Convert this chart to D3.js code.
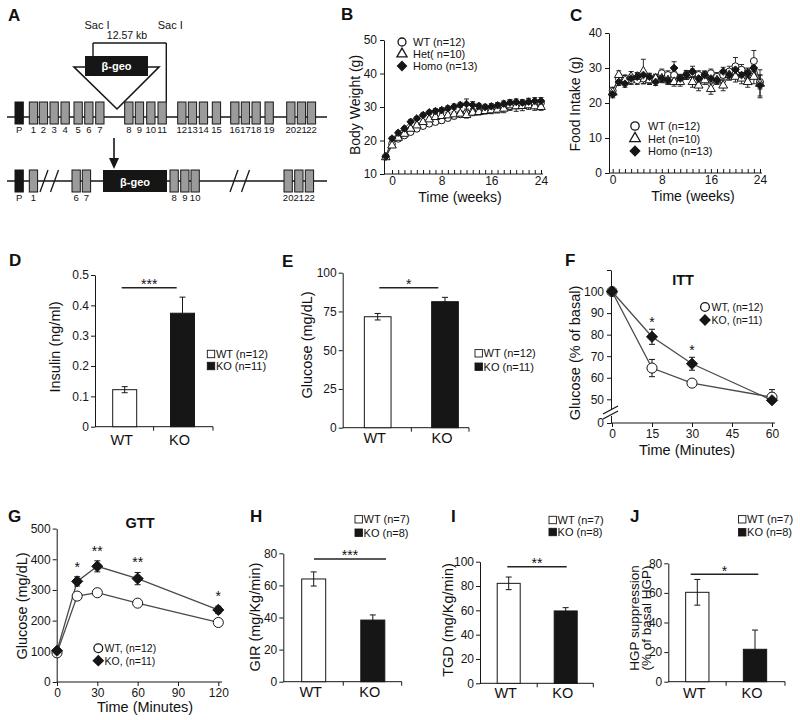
<!DOCTYPE html>
<html><head><meta charset="utf-8">
<script src="https://cdn.jsdelivr.net/npm/d3@7"></script>
<style>
body{margin:0;background:#fff}
svg{display:block;background:#fff}
text{font-family:"Liberation Sans",Arial,sans-serif;fill:#111}
</style>
</head><body>
<svg id="c" width="800" height="720"></svg>
<script>
// ================= DATA =================
// Panel A – gene schematic (map units along the locus)
const exonTopLabels = ["P","1","2","3","4","5","6","7","8","9","10","11","12","13","14","15","16","17","18","19","20","21","22"];
const exonTopMap    = [8,22.3,32.3,43,54,67,77.7,88.7,117.7,128.3,139.7,151,170.7,181.3,192.3,205.3,223.7,234.3,245,258,279.7,290.3,300.3];
const exonBotLabels = ["P","1","6","7","8","9","10","20","21","22"];
const exonBotMap    = [8,22.3,65,75.3,163,173.7,184,277,287.7,298.3];
const betaGeoMap    = [96,160];
const breakMap      = [33,43.5,223,234.5];

// Panel B – body weight (g)
const weeksB  = [-1,0,1,2,3,4,5,6,7,8,9,10,11,12,13,14,15,16,17,18,19,20,21,22,23,24];
const bwWT    = [15.2,19.0,20.5,21.5,22.5,23.5,24.3,25.0,25.5,26.0,26.7,27.3,27.8,28.2,28.5,28.8,29.0,29.2,29.5,29.8,30.2,30.5,30.8,31.0,31.2,31.2];
const bwWTErr = [0.5,0.6,0.6,0.6,0.7,0.7,0.7,0.7,0.7,0.8,0.8,0.8,0.8,0.8,0.8,0.8,0.8,0.9,0.9,0.9,1.0,1.0,1.0,1.0,1.0,1.0];
const bwHet   = [15.0,18.5,20.8,22.0,23.5,24.5,25.5,26.3,27.0,27.3,27.5,27.8,28.0,27.6,28.3,28.5,28.8,29.0,29.2,29.5,30.5,30.2,30.3,30.5,30.2,30.0];
const bwHetErr= [0.5,0.6,0.6,0.6,0.7,0.7,0.7,0.7,0.8,0.8,0.8,0.8,0.8,0.9,0.9,0.9,0.9,1.0,1.0,1.2,1.5,1.5,1.4,1.2,1.2,1.0];
const bwHomo  = [15.2,20.6,22.3,23.6,25.6,26.6,27.6,28.4,28.8,29.1,29.6,30.1,30.6,30.9,30.6,30.3,30.0,30.2,30.5,31.0,31.3,31.5,31.3,31.6,31.8,31.8];
const bwHomoErr=[0.5,0.6,0.6,0.6,0.6,0.6,0.6,0.6,0.7,0.7,0.7,0.8,0.8,1.5,1.0,0.8,0.8,0.8,0.8,0.8,0.9,0.9,0.9,1.0,1.0,1.0];

// Panel C – food intake (g)
const weeksC  = [0,1,2,3,4,5,6,7,8,9,10,11,12,13,14,15,16,17,18,19,20,21,22,23,24];
const fiWT    = [23.5,27.0,27.0,26.5,26.5,27.0,26.5,27.0,28.5,28.0,28.0,27.0,28.0,28.5,28.0,28.0,28.5,27.5,28.0,29.0,30.5,29.5,28.5,32.0,26.0];
const fiWTErr = [1.0,1.2,1.0,1.2,1.2,1.5,1.2,1.2,1.2,1.2,1.5,1.2,1.2,1.2,1.2,1.2,1.2,1.2,1.2,1.5,2.5,1.5,1.5,3.0,2.0];
const fiHet   = [23.0,28.0,26.5,27.5,27.5,29.0,26.5,27.0,27.0,26.5,26.0,26.0,28.0,26.0,25.0,26.5,24.0,26.5,25.0,28.0,27.5,27.0,26.0,27.5,25.5];
const fiHetErr= [1.0,1.2,1.2,1.5,1.2,3.5,1.2,1.2,1.2,1.2,1.2,1.2,1.2,1.5,1.5,1.2,1.5,1.2,1.5,1.5,1.5,1.5,1.5,2.0,4.0];
const fiHomo  = [22.5,26.0,25.5,27.0,27.5,28.0,27.5,26.0,27.0,26.5,30.0,27.0,28.0,29.0,27.0,28.0,27.0,26.5,29.0,28.0,29.5,28.0,28.5,30.0,25.0];
const fiHomoErr=[1.0,1.0,1.0,1.0,1.0,1.0,1.0,1.0,1.0,1.0,1.8,1.0,1.2,1.5,1.0,1.0,1.0,1.0,1.2,1.2,1.2,1.2,1.2,1.5,3.0];

// Bar panels
const groups = ["WT","KO"];
const insulinMean = [0.122,0.374], insulinErr = [0.01,0.053];
const glucoseMean = [71.6,81.3],   glucoseErr = [2.1,2.8];
const girMean = [64,38.4],  girErr = [4.4,3.2];
const tgdMean = [82.2,59.5], tgdErr = [5.2,2.7];
const hgpMean = [60.4,21.9], hgpErr = [8.7,13];

// Panel F – ITT
const ittTime = [0,15,30,60];
const ittWT = [100,64.5,57.5,51], ittWTErr = [0,4,1.5,3.5];
const ittKO = [100,79,66.5,48],   ittKOErr = [0,3.5,3,5];
const ittSig = ["","*","*",""];

// Panel G – GTT
const gttTime = [0,15,30,60,120];
const gttWT = [95,280,291,257,194], gttWTErr = [5,10,12,8,6];
const gttKO = [102,328,377,337,235], gttKOErr = [5,15,18,20,12];
const gttSig = ["","*","**","**","*"];

// ================= DRAWING =================
const svg = d3.select("#c");
const FONT = '"Liberation Sans", Arial, sans-serif';
const INK = "#161616";

// square diamond (rotated square)
const symDiamond = { draw(ctx, size) { const r = Math.sqrt(size / 2);
  ctx.moveTo(0, -r); ctx.lineTo(r, 0); ctx.lineTo(0, r); ctx.lineTo(-r, 0); ctx.closePath(); } };

function txt(g, x, y, s, o = {}) {
  const t = g.append("text").attr("x", x).attr("y", y).text(s)
    .attr("font-size", o.size || 12).attr("text-anchor", o.anchor || "start");
  if (o.bold) t.attr("font-weight", "bold");
  if (o.fill) t.style("fill", o.fill);
  return t;
}
function vtxt(g, x, y, s, size = 14) {
  return g.append("text").attr("transform", `translate(${x},${y}) rotate(-90)`)
    .attr("text-anchor", "middle").attr("dominant-baseline", "central")
    .attr("font-size", size).text(s);
}
function line(g, x1, y1, x2, y2, w = 1, c = INK) {
  return g.append("line").attr("x1", x1).attr("y1", y1).attr("x2", x2).attr("y2", y2)
    .attr("stroke", c).attr("stroke-width", w);
}
function styleAxis(a, size = 12) {
  a.attr("font-family", FONT).attr("font-size", size);
  a.selectAll("path,line").attr("stroke", INK);
  a.selectAll("text").style("fill", INK);
}
function panelLetter(x, y, s) { txt(svg, x, y, s, { size: 17, bold: true }); }

// ---------- Panel A ----------
(function () {
  const g = svg.append("g");
  const m = d3.scaleLinear().domain([0, 320]).range([7, 327]);
  const exW = m(8.3) - m(0);
  panelLetter(8, 21, "A");
  const yT = 117, top = 102, h = 22;
  line(g, m(0), yT, m(320), yT, 1.6);
  exonTopLabels.forEach((lab, i) => {
    const x = m(exonTopMap[i]);
    g.append("rect").attr("x", x).attr("y", top).attr("width", exW).attr("height", h)
      .attr("fill", lab === "P" ? INK : "#9b9b9b").attr("stroke", INK).attr("stroke-width", 1);
    txt(g, x + exW / 2, 133, lab, { size: 9.5, anchor: "middle" });
  });
  const sac1 = 93, sac2 = m(exonTopMap[11]) + exW;
  line(g, sac1, 43, sac1, 57, 1.4);
  line(g, sac1, 43, sac2, 43, 1.4);
  line(g, sac2, 43, sac2, top, 1.4);
  txt(g, sac1 + 4, 29, "Sac I", { size: 11, anchor: "middle" });
  txt(g, sac2 + 4, 29, "Sac I", { size: 11, anchor: "middle" });
  txt(g, 127, 39, "12.57 kb", { size: 10.5, anchor: "middle" });
  g.append("path").attr("d", "M74,67 L159,67 L117,109 Z").attr("fill", "#fff")
    .attr("stroke", INK).attr("stroke-width", 1.6);
  g.append("rect").attr("x", 85).attr("y", 56).attr("width", 63).attr("height", 20).attr("fill", INK);
  txt(g, 116.5, 70, "β-geo", { size: 11, anchor: "middle", bold: true, fill: "#fff" });
  line(g, 114, 138, 114, 160, 1.6);
  g.append("path").attr("d", "M109,158 L119,158 L114,169 Z").attr("fill", INK);
  const yB = 181, topB = 170;
  line(g, m(0), yB, m(320), yB, 1.4);
  exonBotLabels.forEach((lab, i) => {
    const x = m(exonBotMap[i]);
    g.append("rect").attr("x", x).attr("y", topB).attr("width", exW).attr("height", h)
      .attr("fill", lab === "P" ? INK : "#9b9b9b").attr("stroke", INK).attr("stroke-width", 1);
    txt(g, x + exW / 2, 201, lab, { size: 9.5, anchor: "middle" });
  });
  g.append("rect").attr("x", m(betaGeoMap[0])).attr("y", topB).attr("width", m(betaGeoMap[1]) - m(betaGeoMap[0]))
    .attr("height", h).attr("fill", INK);
  txt(g, (m(betaGeoMap[0]) + m(betaGeoMap[1])) / 2, 186, "β-geo", { size: 11, anchor: "middle", bold: true, fill: "#fff" });
  breakMap.forEach(b => line(g, m(b), topB + h, m(b) + 8, topB, 1.3));
})();

// ---------- generic series helpers ----------
function drawSeries(g, x, y, xs, ys, es) {
  return xs.map((t, i) => ({ x: x(t), y: y(ys[i]), lo: y(ys[i] - es[i]), hi: y(ys[i] + es[i]), e: es[i] }));
}
function seriesLine(g, pts, color, w) {
  g.append("path").attr("d", d3.line().x(p => p.x).y(p => p.y)(pts))
    .attr("fill", "none").attr("stroke", color).attr("stroke-width", w);
}
function seriesErr(g, pts, cap, w = 1) {
  pts.forEach(p => {
    if (!p.e) return;
    line(g, p.x, p.lo, p.x, p.hi, w);
    line(g, p.x - cap, p.lo, p.x + cap, p.lo, w);
    line(g, p.x - cap, p.hi, p.x + cap, p.hi, w);
  });
}
function seriesMarks(g, pts, sym, size, fill) {
  g.selectAll(null).data(pts).join("path")
    .attr("transform", p => `translate(${p.x},${p.y})`)
    .attr("d", d3.symbol(sym, size)).attr("fill", fill).attr("stroke", INK).attr("stroke-width", 1);
}
function legendMark(g, x, y, sym, size, fill) {
  g.append("path").attr("transform", `translate(${x},${y})`).attr("d", d3.symbol(sym, size))
    .attr("fill", fill).attr("stroke", INK).attr("stroke-width", 1.3);
}

// ---------- Panel B ----------
(function () {
  const g = svg.append("g");
  panelLetter(341, 20, "B");
  const x = d3.scaleLinear().domain([0, 24]).range([392, 541]);
  const y = d3.scaleLinear().domain([10, 50]).range([174, 40]);
  const ay = g.append("g").attr("transform", "translate(384,0)")
    .call(d3.axisLeft(y).tickValues([10, 20, 30, 40, 50]).tickSize(4).tickSizeOuter(0).tickPadding(3));
  styleAxis(ay);
  line(g, 384, 174, 543, 174);
  const ax = g.append("g").attr("transform", "translate(0,174)")
    .call(d3.axisBottom(x).tickValues(weeksC).tickSize(-4).tickSizeOuter(0).tickPadding(2)
      .tickFormat(d => d % 8 === 0 ? d : ""));
  ax.select(".domain").remove();
  styleAxis(ax);
  vtxt(g, 355, 105, "Body Weight (g)", 14);
  txt(g, 460, 201.5, "Time (weeks)", { size: 14, anchor: "middle" });
  const pW = drawSeries(g, x, y, weeksB, bwWT, bwWTErr);
  const pH = drawSeries(g, x, y, weeksB, bwHet, bwHetErr);
  const pK = drawSeries(g, x, y, weeksB, bwHomo, bwHomoErr);
  [pW, pH, pK].forEach(p => seriesLine(g, p, "#333", 1));
  [pW, pH, pK].forEach(p => seriesErr(g, p, 2.5, 0.9));
  seriesMarks(g, pW, d3.symbolCircle, 36, "#fff");
  seriesMarks(g, pH, d3.symbolTriangle, 32, "#fff");
  seriesMarks(g, pK, symDiamond, 28, INK);
  legendMark(g, 402, 42, d3.symbolCircle, 50, "#fff");
  legendMark(g, 402, 54, d3.symbolTriangle, 45, "#fff");
  legendMark(g, 402, 66, symDiamond, 40, INK);
  txt(g, 413, 46, "WT (n=12)", { size: 11 });
  txt(g, 413, 58, "Het( n=10)", { size: 11 });
  txt(g, 413, 70, "Homo (n=13)", { size: 11 });
})();

// ---------- Panel C ----------
(function () {
  const g = svg.append("g");
  panelLetter(570, 20.5, "C");
  const x = d3.scaleLinear().domain([0, 24]).range([612.7, 760]);
  const y = d3.scaleLinear().domain([0, 40]).range([173, 33]);
  const ay = g.append("g").attr("transform", "translate(609,0)")
    .call(d3.axisLeft(y).tickValues([0, 10, 20, 30, 40]).tickSize(4).tickSizeOuter(0).tickPadding(3));
  styleAxis(ay);
  line(g, 609, 173, 762, 173);
  const ax = g.append("g").attr("transform", "translate(0,173)")
    .call(d3.axisBottom(x).tickValues(weeksC).tickSize(-4).tickSizeOuter(0).tickPadding(2)
      .tickFormat(d => d % 8 === 0 ? d : ""));
  ax.select(".domain").remove();
  styleAxis(ax);
  vtxt(g, 575, 104, "Food  Intake (g)", 14);
  txt(g, 693, 200.5, "Time (weeks)", { size: 14, anchor: "middle" });
  const pW = drawSeries(g, x, y, weeksC, fiWT, fiWTErr);
  const pH = drawSeries(g, x, y, weeksC, fiHet, fiHetErr);
  const pK = drawSeries(g, x, y, weeksC, fiHomo, fiHomoErr);
  [pW, pH, pK].forEach(p => seriesLine(g, p, "#333", 1));
  [pW, pH, pK].forEach(p => seriesErr(g, p, 2.5, 0.9));
  seriesMarks(g, pW, d3.symbolCircle, 38, "#fff");
  seriesMarks(g, pH, d3.symbolTriangle, 34, "#fff");
  seriesMarks(g, pK, symDiamond, 30, INK);
  legendMark(g, 635, 126, d3.symbolCircle, 55, "#fff");
  legendMark(g, 635, 138.5, d3.symbolTriangle, 48, "#fff");
  legendMark(g, 635, 151, symDiamond, 45, INK);
  txt(g, 648, 130, "WT (n=12)", { size: 11 });
  txt(g, 648, 142.5, "Het (n=10)", { size: 11 });
  txt(g, 648, 155, "Homo (n=13)", { size: 11 });
})();

// ---------- Bar panels ----------
function barPanel(o) {
  const g = svg.append("g");
  panelLetter(o.letter[0], o.letter[1], o.letter[2]);
  const y = d3.scaleLinear().domain(o.yDomain).range(o.yRange);
  const x = d3.scalePoint().domain(groups).range(o.centers);
  const ay = g.append("g").attr("transform", `translate(${o.axisX[0]},0)`)
    .call(d3.axisLeft(y).tickValues(o.ticks).tickFormat(o.fmt || d3.format("~g"))
      .tickSize(4).tickSizeOuter(0).tickPadding(2));
  styleAxis(ay);
  const y0 = y(0);
  line(g, o.axisX[0], y0, o.axisX[1], y0);
  line(g, (o.centers[0] + o.centers[1]) / 2, y0, (o.centers[0] + o.centers[1]) / 2, y0 + 4);
  line(g, o.axisX[1], y0, o.axisX[1], y0 + 4);
  groups.forEach((grp, i) => {
    const cx = x(grp), v = o.mean[i], e = o.err[i];
    g.append("rect").attr("x", cx - o.barW / 2).attr("y", y(v)).attr("width", o.barW)
      .attr("height", y0 - y(v)).attr("fill", i === 0 ? "#fff" : INK).attr("stroke", INK).attr("stroke-width", 1);
    const c = 3;
    line(g, cx, y(v - e), cx, y(v + e));
    line(g, cx - c, y(v + e), cx + c, y(v + e));
    line(g, cx - c, y(v - e), cx + c, y(v - e));
    txt(g, cx - 3, o.catY, grp, { size: 14.5, anchor: "middle" });
  });
  const sy = y(o.sig.level);
  line(g, o.sig.x1, sy, o.sig.x2, sy, 1.5, "#222");
  txt(g, (o.sig.x1 + o.sig.x2) / 2, sy + 1.5, o.sig.mark, { size: 14, anchor: "middle" });
  if (Array.isArray(o.ylabel)) {
    o.ylabel.forEach((s, k) => vtxt(g, o.ylabelPos[0] + k * 12.5, o.ylabelPos[1], s, 13.5));
  } else vtxt(g, o.ylabelPos[0], o.ylabelPos[1], o.ylabel, 14.5);
  const L = o.legend;
  groups.forEach((grp, i) => {
    const cy = L.rows[i];
    g.append("rect").attr("x", L.x).attr("y", cy - 3.7).attr("width", 7.4).attr("height", 7.4)
      .attr("fill", i === 0 ? "#fff" : INK).attr("stroke", INK).attr("stroke-width", 0.9);
    txt(g, L.x + 8.6, cy + 4, `${grp} (n=${L.n[i]})`, { size: 11 });
  });
}

barPanel({ letter: [9, 266, "D"], yDomain: [0, 0.5], yRange: [426.7, 275], ticks: [0, 0.1, 0.2, 0.3, 0.4, 0.5],
  fmt: d3.format(".1~f"), axisX: [95, 213], centers: [124.7, 182.5], barW: 24, mean: insulinMean, err: insulinErr,
  catY: 445, sig: { level: 0.458, x1: 121.7, x2: 176.7, mark: "***" },
  ylabel: "Insulin (ng/ml)", ylabelPos: [55, 347], legend: { x: 207.3, rows: [354, 366], n: [12, 11] } });

barPanel({ letter: [282, 266.5, "E"], yDomain: [0, 100], yRange: [427.7, 272.7], ticks: [0, 25, 50, 75, 100],
  axisX: [342.7, 469], centers: [377.7, 445], barW: 26.7, mean: glucoseMean, err: glucoseErr,
  catY: 443, sig: { level: 90.3, x1: 379.3, x2: 438.3, mark: "*" },
  ylabel: "Glucose (mg/dL)", ylabelPos: [306.7, 345], legend: { x: 475, rows: [353.3, 366.7], n: [12, 11] } });

barPanel({ letter: [250, 522, "H"], yDomain: [0, 80], yRange: [681.7, 553.3], ticks: [0, 20, 40, 60, 80],
  axisX: [283.3, 401.7], centers: [313.7, 372.8], barW: 24, mean: girMean, err: girErr,
  catY: 697, sig: { level: 76.5, x1: 314, x2: 386, mark: "***" },
  ylabel: "GIR (mg/Kg/min)", ylabelPos: [255, 617], legend: { x: 355, rows: [519.3, 532.7], n: [7, 8] } });

barPanel({ letter: [451, 522, "I"], yDomain: [0, 100], yRange: [683.3, 561.7], ticks: [0, 20, 40, 60, 80, 100],
  axisX: [480, 593.3], centers: [508.7, 565.7], barW: 23, mean: tgdMean, err: tgdErr,
  catY: 698, sig: { level: 95.9, x1: 507.3, x2: 566.7, mark: "**" },
  ylabel: "TGD (mg/Kg/min)", ylabelPos: [448.3, 620], legend: { x: 549, rows: [520, 532], n: [7, 8] } });

barPanel({ letter: [630, 522, "J"], yDomain: [0, 80], yRange: [681.7, 563.3], ticks: [0, 20, 40, 60, 80],
  axisX: [668.3, 785], centers: [697.3, 755], barW: 23.3, mean: hgpMean, err: hgpErr,
  catY: 698, sig: { level: 72.6, x1: 690.7, x2: 758.3, mark: "*" },
  ylabel: ["HGP suppression", "(% of basal HGP)"], ylabelPos: [634, 618], legend: { x: 738.5, rows: [519.3, 532.3], n: [7, 8] } });

// ---------- Panel F (ITT) ----------
(function () {
  const g = svg.append("g");
  panelLetter(565, 266, "F");
  const x = d3.scaleLinear().domain([0, 60]).range([612, 772]);
  const y = d3.scaleLinear().domain([0, 50, 110]).range([423, 399.3, 270]);
  const ay = g.append("g").attr("transform", "translate(611,0)")
    .call(d3.axisLeft(y).tickValues([0, 50, 60, 70, 80, 90, 100, 110]).tickSize(4).tickSizeOuter(0).tickPadding(3)
      .tickFormat(d => d === 110 ? "" : d));
  styleAxis(ay);
  g.append("rect").attr("x", 608).attr("y", 409).attr("width", 6).attr("height", 7).attr("fill", "#fff");
  line(g, 603, 414, 618, 406, 1.2);
  line(g, 603, 419, 618, 411, 1.2);
  line(g, 611, 423, 775, 423);
  const ax = g.append("g").attr("transform", "translate(0,423)")
    .call(d3.axisBottom(x).tickValues([0, 15, 30, 45, 60]).tickSize(4).tickSizeOuter(0).tickPadding(2));
  ax.select(".domain").remove();
  styleAxis(ax);
  vtxt(g, 575, 353, "Glucose (% of basal)", 14.5);
  txt(g, 687, 455, "Time (Minutes)", { size: 14.5, anchor: "middle" });
  txt(g, 683, 285, "ITT", { size: 14.5, anchor: "middle", bold: true });
  const pW = drawSeries(g, x, y, ittTime, ittWT, ittWTErr);
  const pK = drawSeries(g, x, y, ittTime, ittKO, ittKOErr);
  seriesLine(g, pW, "#4a4a4a", 1.3);
  seriesLine(g, pK, "#4a4a4a", 1.3);
  seriesErr(g, pW, 3);
  seriesErr(g, pK, 3);
  seriesMarks(g, pW, d3.symbolCircle, 80, "#fff");
  seriesMarks(g, pK, symDiamond, 62, INK);
  pK.forEach((p, i) => { if (ittSig[i]) txt(g, p.x, p.hi - 2, ittSig[i], { size: 14, anchor: "middle" }); });
  legendMark(g, 705, 307, d3.symbolCircle, 60, "#fff");
  legendMark(g, 705, 320, symDiamond, 50, INK);
  txt(g, 711.5, 311, "WT, (n=12)", { size: 10.5 });
  txt(g, 711.5, 324, "KO, (n=11)", { size: 10.5 });
})();

// ---------- Panel G (GTT) ----------
(function () {
  const g = svg.append("g");
  panelLetter(8, 522, "G");
  const x = d3.scaleLinear().domain([0, 120]).range([57, 218.3]);
  const y = d3.scaleLinear().domain([0, 500]).range([682, 528.6]);
  const ay = g.append("g").attr("transform", "translate(56.7,0)")
    .call(d3.axisLeft(y).tickValues([0, 100, 200, 300, 400, 500]).tickSize(4).tickSizeOuter(0).tickPadding(2));
  styleAxis(ay);
  line(g, 56.7, 682, 222, 682);
  const ax = g.append("g").attr("transform", "translate(0,682)")
    .call(d3.axisBottom(x).tickValues([0, 30, 60, 90, 120]).tickSize(4).tickSizeOuter(0).tickPadding(2));
  ax.select(".domain").remove();
  styleAxis(ax);
  vtxt(g, 21.5, 606, "Glucose (mg/dL)", 14.5);
  txt(g, 145, 712, "Time (Minutes)", { size: 14.5, anchor: "middle" });
  txt(g, 140, 528, "GTT", { size: 14.5, anchor: "middle", bold: true });
  const pW = drawSeries(g, x, y, gttTime, gttWT, gttWTErr);
  const pK = drawSeries(g, x, y, gttTime, gttKO, gttKOErr);
  seriesLine(g, pW, "#4a4a4a", 1.3);
  seriesLine(g, pK, "#4a4a4a", 1.3);
  seriesErr(g, pW, 3);
  seriesErr(g, pK, 3);
  seriesMarks(g, pW, d3.symbolCircle, 80, "#fff");
  seriesMarks(g, pK, symDiamond, 62, INK);
  pK.forEach((p, i) => { if (gttSig[i]) txt(g, p.x, p.hi - 5, gttSig[i], { size: 14, anchor: "middle" }); });
  legendMark(g, 98.3, 648.3, d3.symbolCircle, 60, "#fff");
  legendMark(g, 98.3, 660.7, symDiamond, 50, INK);
  txt(g, 104.5, 652.3, "WT, (n=12)", { size: 10.5 });
  txt(g, 104.5, 664.7, "KO, (n=11)", { size: 10.5 });
})();
</script>
</body></html>
